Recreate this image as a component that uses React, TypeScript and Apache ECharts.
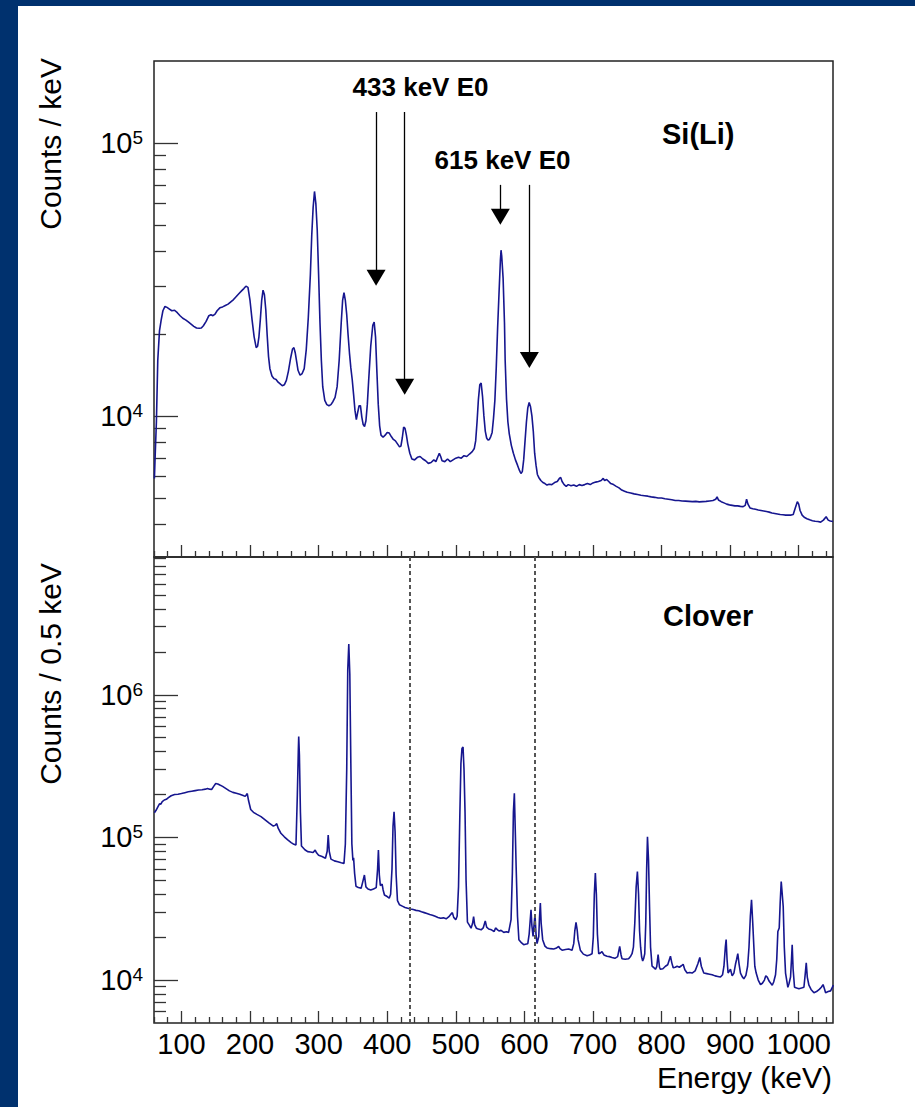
import React, { useEffect, useRef } from 'react';
import * as echarts from 'echarts';

// Si(Li) electron spectrum: [energy keV, counts / keV]
const siliSpectrum: [number, number][] = [
  [60.6, 5900], [62, 7500], [63.5, 9500], [65.5, 16000], [68, 20500], [70.5, 22500], [73, 24300], [76, 25200],
  [79, 25000], [82, 24700], [86, 24300], [90, 24400], [94, 23900], [98, 23300], [102, 22800], [106, 22500],
  [110, 22100], [114, 21700], [118, 21300], [122, 21000], [126, 20950], [129, 21000], [132, 21400], [136, 22200],
  [140, 23300], [143, 23500], [146, 23300], [149, 23600], [152, 24300], [156, 24900], [160, 25100], [164, 25400],
  [168, 25700], [172, 26200], [176, 26700], [180, 27400], [184, 28100], [188, 28800], [191, 29300], [194, 29900],
  [197, 29600], [200, 26500], [203, 22500], [206, 19500], [209, 17800], [211, 18000], [213, 19500], [215, 22500],
  [217, 26500], [219, 28900], [221, 27800], [223, 24500], [225, 19800], [227, 16500], [229, 14900], [232, 14000],
  [235, 13700], [238, 13600], [241, 13300], [244, 13100], [247, 12900], [250, 13000], [253, 13500], [256, 14600],
  [259, 16200], [262, 17600], [264, 17800], [266, 17000], [268, 15800], [270, 14700], [273, 14100], [276, 14300],
  [279, 14900], [282, 17500], [285, 23000], [288, 33000], [290, 46000], [292, 58000], [294, 66500], [296, 60000],
  [298, 48000], [300, 33000], [302, 22000], [304, 16000], [306, 12800], [309, 11400], [312, 11000], [315, 10900],
  [318, 11000], [321, 11300], [324, 11700], [327, 12800], [330, 16000], [333, 22000], [335, 26500], [337, 28300],
  [339, 26500], [341, 23500], [343, 19800], [345, 17000], [347, 15000], [349, 13600], [351, 12000], [353, 10500],
  [355, 9700], [357, 10300], [359, 10900], [361, 10900], [363, 9900], [365, 9300], [367, 9150], [369, 9600],
  [371, 11000], [373, 13500], [376, 18000], [379, 21500], [381, 22100], [383, 19500], [385, 14500], [387, 11000],
  [389, 9200], [391, 8500], [394, 8350], [397, 8500], [400, 8700], [403, 8650], [406, 8400], [409, 8200],
  [412, 8100], [415, 7900], [418, 7700], [420, 7750], [422, 8300], [424, 9100], [426, 9000], [428, 8500],
  [430, 7900], [433, 7300], [436, 6950], [440, 6900], [444, 7050], [448, 7100], [452, 6950], [456, 6850],
  [460, 6700], [464, 6750], [468, 6900], [471, 6800], [474, 7100], [476, 7300], [478, 7100], [480, 6850],
  [484, 6800], [488, 6950], [492, 6800], [496, 6900], [500, 7000], [504, 7050], [508, 7000], [512, 7150],
  [516, 7100], [520, 7250], [524, 7400], [527, 7600], [529, 8100], [531, 9500], [533, 11500], [535, 13000],
  [537, 13200], [539, 11800], [541, 10000], [543, 8800], [545, 8300], [547, 8150], [549, 8200], [551, 8400],
  [553, 8700], [555, 9800], [557, 11400], [559, 15000], [561, 21000], [563, 28000], [565, 37000], [566, 40500],
  [567, 38500], [569, 32000], [571, 22000], [572, 16000], [574, 11500], [576, 9500], [578, 8600], [581, 7800],
  [584, 7300], [587, 6900], [590, 6600], [593, 6300], [595, 6150], [597, 6250], [599, 6900], [601, 8100],
  [603, 9500], [605, 10700], [607, 11200], [609, 10800], [611, 10000], [613, 8800], [615, 7300], [617, 6600],
  [619, 6100], [621, 5950], [624, 5800], [627, 5700], [630, 5650], [633, 5580], [636, 5620], [640, 5600],
  [644, 5700], [648, 5750], [651, 5900], [653, 5950], [655, 5750], [658, 5600], [661, 5520], [664, 5600],
  [668, 5550], [672, 5580], [676, 5520], [680, 5600], [684, 5560], [688, 5600], [692, 5650], [696, 5600],
  [700, 5680], [704, 5720], [708, 5750], [712, 5800], [715, 5900], [717, 5800], [720, 5850], [723, 5750],
  [726, 5650], [730, 5600], [734, 5520], [738, 5450], [742, 5350], [746, 5300], [750, 5250], [755, 5220],
  [760, 5180], [765, 5150], [770, 5120], [775, 5100], [780, 5080], [785, 5050], [790, 5030], [795, 5000],
  [800, 5000], [805, 4970], [810, 4950], [815, 4930], [820, 4900], [825, 4900], [830, 4880], [835, 4870],
  [840, 4860], [845, 4850], [850, 4860], [855, 4840], [860, 4850], [865, 4860], [870, 4880], [875, 4900],
  [879, 4950], [881, 5050], [883, 4920], [887, 4850], [891, 4800], [895, 4750], [899, 4720], [903, 4700],
  [907, 4680], [911, 4680], [915, 4660], [919, 4650], [922, 4700], [924, 4950], [926, 4750], [929, 4600],
  [933, 4570], [937, 4550], [941, 4520], [945, 4500], [949, 4480], [953, 4460], [957, 4440], [961, 4410],
  [965, 4390], [969, 4370], [973, 4350], [977, 4340], [981, 4330], [985, 4330], [989, 4330], [992, 4350],
  [995, 4600], [998, 4850], [1000, 4750], [1002, 4500], [1005, 4330], [1008, 4250], [1012, 4200], [1016, 4160],
  [1020, 4130], [1024, 4110], [1028, 4100], [1032, 4080], [1036, 4150], [1040, 4270], [1043, 4150], [1046, 4120],
  [1050, 4100],
];

// Clover gamma spectrum: [energy keV, counts / 0.5 keV]
const cloverSpectrum: [number, number][] = [
  [60.6, 149000], [63, 155000], [66, 165000], [68, 172000], [70, 171000], [72, 178000], [75, 183000], [78, 185000],
  [81, 190000], [85, 196000], [90, 200000], [95, 201000], [100, 203000], [105, 206000], [110, 209000], [115, 211000],
  [120, 213000], [125, 215000], [130, 216000], [135, 218000], [138, 220000], [141, 218000], [144, 217000], [147, 228000],
  [150, 239000], [153, 237000], [156, 233000], [160, 228000], [165, 220000], [170, 212000], [175, 207000], [180, 204000],
  [185, 201000], [190, 197000], [193, 194000], [195, 200000], [196, 203000], [198, 180000], [201, 157000], [205, 150000],
  [210, 145000], [216, 140000], [222, 133000], [228, 126000], [234, 120000], [237, 122000], [239, 125000], [241, 116000],
  [245, 107000], [250, 101000], [255, 96000], [260, 92000], [264, 89500], [267, 88400], [269, 200000], [270.5, 420000],
  [271, 510000], [272, 380000], [273.5, 150000], [275, 87000], [280, 82000], [284, 79500], [288, 79000], [292, 78500],
  [295, 81500], [297, 78000], [300, 75000], [305, 73500], [310, 71500], [312.5, 80000], [314, 104000], [315.5, 80000],
  [318, 70500], [323, 68500], [328, 67500], [333, 66500], [337, 65800], [339, 90000], [341, 300000], [342.5, 1500000],
  [344, 2270000], [345.5, 1400000], [347, 330000], [348.5, 90000], [350, 69000], [351, 72000], [352.5, 56000], [354.5, 45500],
  [358, 44500], [362, 44000], [364, 48000], [366.8, 54500], [369, 45000], [372, 43500], [376, 42800], [380, 43500],
  [384, 44500], [386, 60000], [387.2, 81500], [388.5, 55000], [390, 46000], [392.6, 47100], [394, 43000], [396, 39500],
  [400, 38500], [403, 37500], [405, 40000], [407, 60000], [408.5, 120000], [410, 151000], [411.5, 110000], [413, 55000],
  [415, 36000], [418, 33700], [422, 33000], [426, 32300], [430, 31900], [434, 31500], [438, 31200], [442, 30800],
  [446, 30600], [450, 30100], [454, 29700], [458, 29300], [462, 28800], [466, 28500], [470, 28000], [474, 27500],
  [478, 27100], [482, 27300], [486, 26900], [490, 27800], [493, 29000], [495, 29700], [497, 27500], [500, 26500],
  [502, 28000], [504, 45000], [506, 150000], [507.5, 330000], [509, 420000], [510.6, 430000], [512, 300000], [513.5, 150000],
  [515, 50000], [517, 25500], [520, 24200], [522.3, 23100], [524.5, 25000], [526, 27900], [527.5, 24500], [530, 23100],
  [533, 22800], [537, 22500], [540, 23200], [543, 26000], [545, 23500], [548, 22800], [552, 22500], [556, 21900],
  [558, 23200], [561, 22500], [563, 22100], [566, 22300], [570, 21600], [574, 21800], [577, 21600], [580.6, 26500],
  [582.5, 56200], [584, 150000], [585.4, 204000], [587, 100000], [588, 62500], [590, 28000], [592, 19200], [596, 18200],
  [599, 17700], [603, 17900], [605, 18000], [607, 21000], [609.7, 31100], [611, 24000], [612.7, 20200], [614, 24000],
  [615.5, 28700], [617, 21000], [618.5, 18000], [621, 20200], [622, 27000], [623.3, 34700], [624.5, 25000], [626.7, 19200],
  [630, 17300], [633, 16800], [638, 16600], [642.7, 16500], [646, 16700], [650, 17200], [652, 16600], [655, 16200],
  [660, 16400], [664.6, 16500], [669.5, 16200], [672, 18000], [673.5, 22000], [675.3, 25400], [677, 22500], [678.3, 19200],
  [681.6, 16200], [686, 15200], [691.4, 14800], [695, 15000], [698.7, 15300], [700.5, 20000], [702, 40000], [703.5, 56200],
  [705, 40000], [706.5, 21000], [708.4, 15300], [711, 15500], [713.2, 15800], [716, 15000], [720.5, 14700], [724, 14600],
  [727.8, 14400], [732, 14200], [736, 14600], [739, 17200], [741, 15000], [742.4, 14100], [747, 14000], [752, 14100],
  [755, 14700], [757, 15300], [759, 17000], [761, 25000], [763, 45000], [764.8, 57700], [766.5, 40000], [768, 22000],
  [769.5, 17000], [771, 14500], [772.5, 13600], [774, 14200], [775.5, 15300], [777, 25000], [778.3, 60000], [779.5, 101000],
  [781, 70000], [782.5, 32800], [784, 17000], [786.2, 12500], [789, 12200], [791.1, 11900], [793, 12400], [795, 15100],
  [797, 12300], [798.4, 11900], [802, 12000], [805.7, 12500], [809, 12800], [811, 13700], [813, 14700], [815, 13200],
  [817, 12200], [820, 12300], [822.7, 12500], [826, 12300], [829, 12600], [831.5, 12900], [834, 11800], [837.3, 11200],
  [841, 11300], [844.6, 11200], [849, 11600], [853, 13000], [855.8, 14400], [858, 12500], [861.6, 11200], [866, 11100],
  [870, 11000], [873.8, 10900], [878, 10700], [882, 10600], [885.9, 10500], [889, 10900], [891, 12500], [893, 17000],
  [894.2, 19200], [895.5, 14000], [897, 11200], [900.5, 11900], [903, 10700], [905.5, 11200], [907.8, 12900], [909.5, 14000],
  [911.2, 15300], [913, 13000], [915.1, 11200], [918, 10500], [920, 10200], [923, 10800], [925.5, 12500], [927.5, 17000],
  [929.5, 28000], [931.2, 36600], [933, 25000], [934.6, 17200], [936, 12500], [938, 11200], [941, 10000], [944.3, 9300],
  [947, 9500], [950, 10000], [952, 10700], [954.1, 10500], [957, 9800], [961.4, 9200], [963.5, 9700], [966.2, 10900],
  [968, 14000], [969.6, 21900], [971.6, 23200], [973, 35000], [974.5, 49100], [976, 40000], [977.4, 32800], [979, 17000],
  [980.8, 11200], [984.2, 8900], [986, 9500], [988.1, 10500], [989.5, 14000], [990.5, 17700], [991.8, 12000], [993.9, 8900],
  [997, 8800], [1000.3, 8700], [1004, 8800], [1007.6, 8900], [1009.5, 11000], [1011, 13200], [1012.5, 10500], [1014.9, 9200],
  [1018, 8600], [1022.2, 8150], [1026, 8300], [1030, 8600], [1033, 8900], [1035.5, 9300], [1037.5, 8700], [1039.2, 8150],
  [1043, 8300], [1046.5, 8400], [1049, 8900], [1050.5, 9200],
];

const xRange = [60, 1050];
const xMajorTicks = [100, 200, 300, 400, 500, 600, 700, 800, 900, 1000];
const xMajorLabels = ['100', '200', '300', '400', '500', '600', '700', '800', '900', '1000'];
const xMinorTicks = [60, 80, 120, 140, 160, 180, 220, 240, 260, 280, 320, 340, 360, 380, 420, 440, 460, 480,
  520, 540, 560, 580, 620, 640, 660, 680, 720, 740, 760, 780, 820, 840, 860, 880, 920, 940, 960, 980, 1020, 1040];

const siliYRange = [3040, 200000];
const cloverYRange = [5000, 9250000];
const siliYTicks = [1e4, 1e5];
const cloverYTicks = [1e4, 1e5, 1e6];
const minorMultipliers = [2, 3, 4, 5, 6, 7, 8, 9];

const e0Lines = [433, 615];
const arrowEnergy = [383.8, 425.5, 565, 607.3];
const arrowTop = [130000, 130000, 70300, 70300];
const arrowHead = [32100, 12780, 53700, 16030];

const FONT = "'Liberation Sans', Arial, Helvetica, sans-serif";
const LINE = '#16168f';
const TICK = '#333';

function minorLogTicks(range: number[]) {
  const out: number[] = [];
  for (let d = 1e3; d <= 1e7; d *= 10) {
    for (const k of minorMultipliers) {
      const v = k * d;
      if (v > range[0] && v < range[1]) out.push(Math.log10(v));
    }
  }
  return out;
}

function expFormatter(ticks: number[]) {
  return (v: number) => {
    const hit = ticks.find((t) => Math.abs(t - v) / t < 1e-6);
    if (!hit) return '';
    return `{b|10}{s|${Math.round(Math.log10(hit))}}`;
  };
}

const xFormatter = (v: number) => {
  const i = xMajorTicks.findIndex((t) => Math.abs(t - v) < 1e-6);
  return i >= 0 ? xMajorLabels[i] : '';
};

const yRich = {
  b: { fontSize: 29, fontFamily: FONT, color: '#000', lineHeight: 30 },
  s: { fontSize: 19, fontFamily: FONT, color: '#000', lineHeight: 19, verticalAlign: 'top' },
};

function makeX(gridIndex: number, major: boolean, labels: boolean) {
  return {
    type: 'value',
    gridIndex,
    min: xRange[0],
    max: xRange[1],
    position: 'bottom',
    axisLine: { show: false },
    splitLine: { show: false },
    axisTick: {
      show: true,
      inside: true,
      length: major ? 12 : 6,
      customValues: major ? xMajorTicks : xMinorTicks,
      lineStyle: { color: TICK, width: 1.3 },
    },
    axisLabel: labels
      ? { show: true, customValues: xMajorTicks, formatter: xFormatter, fontSize: 29, fontFamily: FONT, color: '#000', margin: 6 }
      : { show: false },
  };
}

function makeYLog(gridIndex: number, range: number[], ticks: number[]) {
  return {
    type: 'log',
    logBase: 10,
    gridIndex,
    min: range[0],
    max: range[1],
    position: 'left',
    axisLine: { show: false },
    splitLine: { show: false },
    minorTick: { show: false },
    axisTick: { show: true, inside: true, length: 24, lineStyle: { color: TICK, width: 1.3 } },
    axisLabel: {
      show: true,
      showMinLabel: false,
      showMaxLabel: false,
      margin: 11,
      formatter: expFormatter(ticks),
      rich: yRich,
    },
  };
}

function makeYMinor(gridIndex: number, range: number[]) {
  return {
    type: 'value',
    gridIndex,
    min: Math.log10(range[0]),
    max: Math.log10(range[1]),
    position: 'left',
    axisLine: { show: false },
    splitLine: { show: false },
    axisTick: {
      show: true,
      inside: true,
      length: 12,
      customValues: minorLogTicks(range),
      lineStyle: { color: TICK, width: 1.3 },
    },
    axisLabel: { show: false },
  };
}

export default function App() {
  const ref = useRef<HTMLDivElement>(null);
  useEffect(() => {
    if (!ref.current) return;
    const chart = echarts.init(ref.current, undefined, { renderer: 'svg' });
    const option: any = {
      animation: false,
      backgroundColor: '#ffffff',
      grid: [
        { left: 154, top: 61, width: 679, height: 496, show: true, borderColor: '#222', borderWidth: 1.5, backgroundColor: 'transparent' },
        { left: 154, top: 557, width: 679, height: 466, show: true, borderColor: '#222', borderWidth: 1.5, backgroundColor: 'transparent' },
      ],
      xAxis: [makeX(0, true, false), makeX(0, false, false), makeX(1, true, true), makeX(1, false, false)],
      yAxis: [
        makeYLog(0, siliYRange, siliYTicks),
        makeYMinor(0, siliYRange),
        makeYLog(1, cloverYRange, cloverYTicks),
        makeYMinor(1, cloverYRange),
      ],
      series: [
        {
          name: 'Si(Li)',
          type: 'line',
          xAxisIndex: 0,
          yAxisIndex: 0,
          data: siliSpectrum,
          symbol: 'none',
          showSymbol: false,
          lineStyle: { color: LINE, width: 1.6 },
          silent: true,
          markLine: {
            silent: true,
            symbol: ['none', 'triangle'],
            symbolSize: [19, 16],
            label: { show: false },
            lineStyle: { color: '#000', width: 1.3, type: 'solid' },
            data: arrowEnergy.map((e, i) => [
              { coord: [e, arrowTop[i]] },
              { coord: [e, arrowHead[i]] },
            ]),
          },
        },
        {
          name: 'Clover',
          type: 'line',
          xAxisIndex: 2,
          yAxisIndex: 2,
          data: cloverSpectrum,
          symbol: 'none',
          showSymbol: false,
          lineStyle: { color: LINE, width: 1.6 },
          silent: true,
          markLine: {
            silent: true,
            symbol: ['none', 'none'],
            label: { show: false },
            lineStyle: { color: '#555', width: 2, type: [4, 3] },
            data: e0Lines.map((e) => ({ xAxis: e })),
          },
        },
      ],
      graphic: [
        { type: 'rect', left: 0, top: 0, shape: { width: 18, height: 1107 }, style: { fill: '#00316e' }, silent: true },
        { type: 'rect', left: 0, top: 0, shape: { width: 915, height: 6 }, style: { fill: '#00316e' }, silent: true },
        {
          type: 'text', x: 50, y: 58, rotation: Math.PI / 2,
          style: { text: 'Counts / keV', font: `30px ${FONT}`, fill: '#000', align: 'right', verticalAlign: 'middle' },
        },
        {
          type: 'text', x: 50, y: 563, rotation: Math.PI / 2,
          style: { text: 'Counts / 0.5 keV', font: `30px ${FONT}`, fill: '#000', align: 'right', verticalAlign: 'middle' },
        },
        {
          type: 'text', x: 832, y: 1077,
          style: { text: 'Energy (keV)', font: `30px ${FONT}`, fill: '#000', align: 'right', verticalAlign: 'middle' },
        },
        {
          type: 'text', x: 420.5, y: 87,
          style: { text: '433 keV E0', font: `bold 26px ${FONT}`, fill: '#000', align: 'center', verticalAlign: 'middle' },
        },
        {
          type: 'text', x: 502.5, y: 160,
          style: { text: '615 keV E0', font: `bold 26px ${FONT}`, fill: '#000', align: 'center', verticalAlign: 'middle' },
        },
        {
          type: 'text', x: 662, y: 134,
          style: { text: 'Si(Li)', font: `bold 29px ${FONT}`, fill: '#000', align: 'left', verticalAlign: 'middle' },
        },
        {
          type: 'text', x: 663, y: 616,
          style: { text: 'Clover', font: `bold 29px ${FONT}`, fill: '#000', align: 'left', verticalAlign: 'middle' },
        },
      ],
    };
    chart.setOption(option);
    return () => chart.dispose();
  }, []);
  return <div ref={ref} style={{ position: 'absolute', left: 0, top: 0, width: 915, height: 1107 }} />;
}
